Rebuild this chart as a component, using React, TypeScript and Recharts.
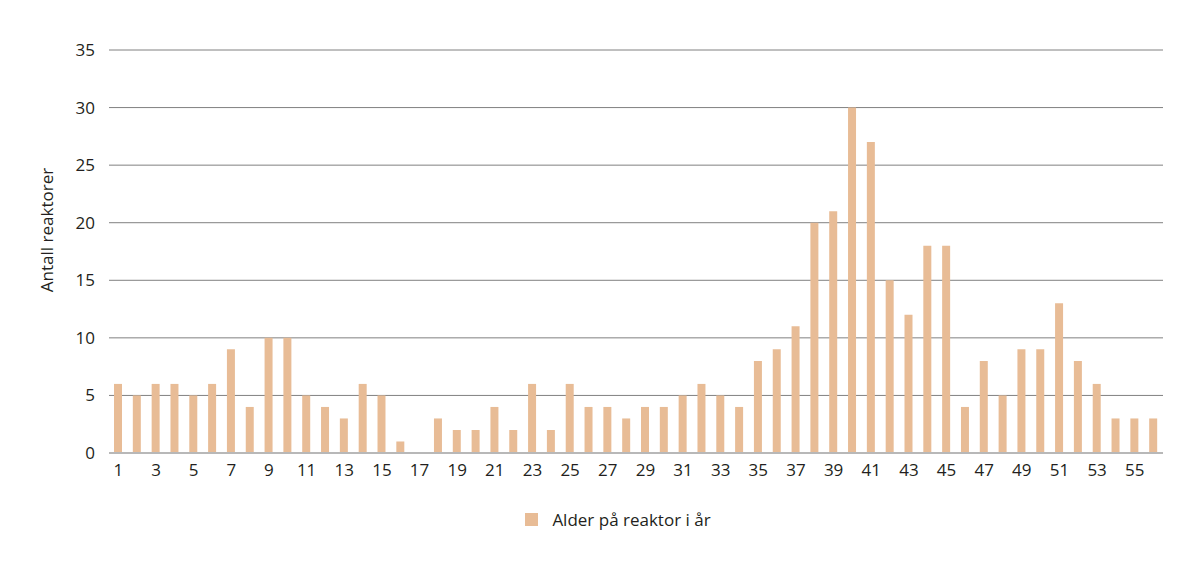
import React from 'react';
import { BarChart, Bar, XAxis, YAxis, CartesianGrid, Legend } from 'recharts';

const ages: number[] = Array.from({ length: 56 }, (_, i) => i + 1);
const counts: number[] = [
  6, 5, 6, 6, 5, 6, 9, 4, 10, 10,
  5, 4, 3, 6, 5, 1, 0, 3, 2, 2,
  4, 2, 6, 2, 6, 4, 4, 3, 4, 4,
  5, 6, 5, 4, 8, 9, 11, 20, 21, 30,
  27, 15, 12, 18, 18, 4, 8, 5, 9, 9,
  13, 8, 6, 3, 3, 3,
];
const yTicks: number[] = [0, 5, 10, 15, 20, 25, 30, 35];
const seriesName = 'Alder på reaktor i år';
const yLabel = 'Antall reaktorer';

const data = ages.map((a, i) => ({ age: a, value: counts[i] }));

const FONT = '"Open Sans", sans-serif';
const BAR = '#E8BC96';

const LegendContent = () => (
  <div style={{ display: 'flex', justifyContent: 'center', alignItems: 'center', fontFamily: FONT, fontSize: 17, color: '#231F20', paddingLeft: 38, height: 24 }}>
    <span style={{ display: 'inline-block', width: 13, height: 13, background: BAR, marginRight: 14 }} />
    <span>{seriesName}</span>
  </div>
);

export default function App() {
  return (
    <div style={{ width: 1182, height: 552, background: '#fff' }}>
      <BarChart
        width={1182}
        height={552}
        data={data}
        margin={{ top: 42, right: 27, bottom: 53, left: 20 }}
        barCategoryGap={0}
      >
        <CartesianGrid vertical={false} stroke="#808080" strokeWidth={1} />
        <XAxis
          dataKey="age"
          interval={1}
          tickLine={false}
          axisLine={{ stroke: '#b8b8b8', strokeWidth: 2 }}
          tick={{ fill: '#231F20', fontSize: 17, fontFamily: FONT }}
          tickMargin={5}
        />
        <YAxis
          width={81}
          domain={[0, 35]}
          ticks={yTicks}
          interval={0}
          axisLine={false}
          tickLine={false}
          tickMargin={8}
          tick={{ fill: '#231F20', fontSize: 17, fontFamily: FONT }}
          label={{
            content: () => (
              <text
                x={38}
                y={222}
                transform="rotate(-90 38 222)"
                textAnchor="middle"
                dominantBaseline="central"
                fill="#231F20"
                fontSize={17}
                fontFamily={FONT}
              >
                {yLabel}
              </text>
            ),
          }}
        />
        <Legend
          verticalAlign="bottom"
          content={LegendContent}
          wrapperStyle={{ top: 499, left: 0, width: 1182 }}
        />
        <Bar dataKey="value" name={seriesName} fill={BAR} barSize={8} isAnimationActive={false} />
      </BarChart>
    </div>
  );
}
